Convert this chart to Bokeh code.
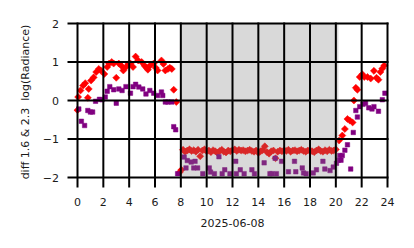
import numpy as np
from bokeh.plotting import figure
from bokeh.models import Range1d, BoxAnnotation
from bokeh.core.properties import value
from bokeh.embed import file_html
from bokeh.resources import INLINE

# ---- data (hours of day, values) ----
red_hours = [0.0, 0.05, 0.23, 0.44, 0.6, 0.8, 0.87, 1.05, 1.25, 1.45, 1.65, 1.8, 2.08, 2.3, 2.45,
             2.65, 2.8, 3.0, 3.2, 3.4, 3.55, 3.75, 3.95, 4.1, 4.3, 4.5, 4.7, 4.97, 5.2, 5.35, 5.45,
             5.6, 5.9, 6.05, 6.2, 6.5, 6.65, 6.8, 7.0, 7.15, 7.3, 7.45, 7.65, 7.92, 8.05,
             8.17, 8.33, 8.5, 8.67, 8.83, 9.0, 9.17, 9.33, 9.5, 9.67, 9.83, 10.0, 10.17, 10.33,
             10.5, 10.67, 10.83, 11.0, 11.17, 11.33, 11.5, 11.67, 11.83, 12.0, 12.17, 12.33, 12.5,
             12.67, 12.83, 13.0, 13.17, 13.33, 13.5, 13.67, 13.83, 14.0, 14.17, 14.33, 14.5, 14.67,
             14.83, 15.0, 15.17, 15.33, 15.5, 15.67, 15.83, 16.0, 16.17, 16.33, 16.5, 16.67, 16.83,
             17.0, 17.17, 17.33, 17.5, 17.67, 17.83, 18.0, 18.17, 18.33, 18.5, 18.67, 18.83, 19.0,
             19.17, 19.33, 19.5, 19.67, 19.83, 20.0,
             20.25, 20.5, 20.7, 20.9, 21.08, 21.3, 21.4, 21.55, 21.67, 21.85, 22.05, 22.2, 22.45,
             22.7, 22.95, 23.15, 23.3, 23.45, 23.6, 23.75]
red_vals = [-0.25, 0.09, 0.26, 0.39, 0.45, 0.07, 0.3, 0.52, 0.6, 0.74, 0.82, 0.78, 0.69, 0.87, 0.96,
            1.0, 0.96, 0.59, 0.96, 0.9, 0.78, 0.87, 0.95, 0.96, 0.87, 1.14, 1.04, 1.0, 0.9, 0.85, 0.8,
            0.9, 0.96, 0.85, 0.78, 1.04, 0.95, 0.78, 0.82, 0.85, 0.82, 0.28, -0.04, -1.86, -1.8,
            -1.28, -1.33, -1.30, -1.27, -1.31, -1.29, -1.33, -1.28, -1.45, -1.30, -1.27, -1.32, -1.30, -1.34,
            -1.29, -1.32, -1.36, -1.31, -1.28, -1.33, -1.35, -1.30, -1.32, -1.29, -1.27, -1.31, -1.28,
            -1.30, -1.29, -1.32, -1.30, -1.28, -1.31, -1.33, -1.30, -1.36, -1.32, -1.29, -1.19, -1.34,
            -1.38, -1.32, -1.30, -1.50, -1.33, -1.30, -1.32, -1.29, -1.31, -1.28, -1.33, -1.30, -1.29,
            -1.32, -1.30, -1.28, -1.31, -1.33, -1.30, -1.29, -1.32, -1.34, -1.30, -1.27, -1.31, -1.33,
            -1.29, -1.32, -1.28, -1.31, -1.30, -1.27,
            -1.04, -0.91, -0.74, -0.48, -0.52, -0.57, 0.0, 0.33, 0.28, 0.61, 0.68, 0.61, 0.61,
            0.57, 0.77, 0.59, 0.54, 0.74, 0.83, 0.91]

purple_hours = [0.1, 0.3, 0.55, 0.8, 1.0, 1.17, 1.4, 1.7, 1.9, 2.15, 2.3, 2.5, 2.8, 3.0, 3.2, 3.45,
                3.75, 4.1, 4.3, 4.5, 4.75, 5.05, 5.3, 5.6, 5.9, 6.2, 6.5, 6.6, 6.8, 7.0, 7.3, 7.45,
                7.6, 7.75,
                8.26, 8.4, 8.5, 8.8, 9.0, 9.1, 9.3, 9.7, 10.2, 10.3, 10.6, 10.95, 11.2, 11.4, 11.8,
                12.25, 12.3, 12.6, 12.9, 13.5, 13.7, 14.45, 14.9, 15.05, 15.3, 15.4, 15.8, 16.33,
                16.8, 16.9, 17.4, 17.5, 17.7, 18.25, 18.5, 19.0, 19.15, 19.55, 19.8, 20.05, 20.2,
                20.3, 20.4, 20.5, 20.7, 20.9, 21.15, 21.35, 21.55, 21.67, 21.85, 22.1, 22.3, 22.55,
                22.8, 22.95, 23.3, 23.6, 23.8]
purple_vals = [-0.22, -0.54, -0.65, -0.26, -0.3, -0.3, -0.02, 0.03, 0.02, 0.09, 0.24, 0.36, 0.28,
               -0.07, 0.3, 0.26, 0.36, 0.19, 0.36, 0.42, 0.35, 0.3, 0.17, 0.26, 0.19, 0.13, 0.22,
               0.13, -0.04, -0.04, -0.04, -0.68, -0.76, -1.9,
               -1.47, -1.75, -1.56, -1.6, -1.75, -1.58, -1.75, -1.9, -1.75, -1.86, -1.9, -1.46, -1.9,
               -1.8, -1.9, -1.58, -1.9, -1.8, -1.9, -1.8, -1.9, -1.62, -1.9, -1.9, -1.5, -1.9, -1.58,
               -1.85, -1.58, -1.85, -1.75, -1.88, -1.9, -1.88, -1.8, -1.58, -1.78, -1.82, -1.73,
               -1.63, -1.55, -1.43, -1.55, -1.43, -1.29, -1.15, -1.78, -0.83, -0.26, -0.43, -0.16,
               -0.1, -0.07, -0.19, -0.22, -0.16, -0.28, 0.02, 0.19]

x_ticks = [0, 2, 4, 6, 8, 10, 12, 14, 16, 18, 20, 22, 24]
x_tick_labels = ["0", "2", "4", "6", "8", "10", "12", "14", "16", "18", "20", "22", "24"]
y_ticks = [-2, -1, 0, 1, 2]
y_tick_labels = ["\u22122", "\u22121", "0", "1", "2"]
night_start, night_end = 7.97, 20.2
x_min, x_max, y_min, y_max = 0, 24, -2, 2
x_title = "2025-06-08"
y_title = "diff 1.6 & 2.3\u00a0 log(Radiance)"

# ---- layout (pixels of the 414 x 248 canvas) ----
W, H = 414, 248
F_LEFT, F_RIGHT, F_TOP, F_BOTTOM = 77, 387, 23, 177
sx = (F_RIGHT - F_LEFT) / (x_max - x_min)      # px per hour
sy = (F_BOTTOM - F_TOP) / (y_max - y_min)      # px per unit


def hx(px):
    return x_min + (px - F_LEFT) / sx


def vy(py):
    return y_max - (py - F_TOP) / sy


FONT = "DejaVu Sans"
FS = "11px"
TXT = "#1a1a1a"

p = figure(width=W, height=H, output_backend="svg", toolbar_location=None,
           x_range=Range1d(hx(0), hx(W)), y_range=Range1d(vy(H), vy(0)),
           min_border=0, min_border_left=0, min_border_right=0,
           min_border_top=0, min_border_bottom=0)
p.xaxis.visible = False
p.yaxis.visible = False
p.grid.visible = False
p.outline_line_color = None
p.background_fill_color = "white"
p.border_fill_color = "white"

# data
p.scatter(red_hours, red_vals, marker="square", angle=np.pi / 4, size=5,
          fill_color="red", line_color="red", line_width=0.5)
p.scatter(purple_hours, purple_vals, marker="square", size=4.5,
          fill_color="purple", line_color="purple", line_width=0.5)

# night shading (over the points)
p.add_layout(BoxAnnotation(left=night_start, right=night_end, bottom=y_min, top=y_max,
                           fill_color="gray", fill_alpha=0.3, line_color=None))

# grid lines with their outward ticks (drawn on top)
n_x, n_y = len(x_ticks), len(y_ticks)
vgrid = p.segment(x0=x_ticks, y0=[vy(F_BOTTOM + 9)] * n_x, x1=x_ticks, y1=[y_max] * n_x,
                  line_color="black", line_width=2, line_cap="square")
hgrid = p.segment(x0=[hx(F_LEFT - 9)] * n_y, y0=y_ticks, x1=[x_max] * n_y, y1=y_ticks,
                  line_color="black", line_width=2, line_cap="square")
vgrid.level = "overlay"
hgrid.level = "overlay"

# tick labels
p.text(x=x_ticks, y=[vy(201.5)] * n_x, text=x_tick_labels,
       text_font=value(FONT), text_font_size=FS, text_color=TXT,
       text_align="center", text_baseline="middle")
p.text(x=[hx(58.5)] * n_y, y=y_ticks, text=y_tick_labels,
       text_font=value(FONT), text_font_size=FS, text_color=TXT,
       text_align="right", text_baseline="middle")

# axis titles
p.text(x=[(x_min + x_max) / 2], y=[vy(222.5)], text=[x_title],
       text_font=value(FONT), text_font_size=FS, text_color=TXT,
       text_align="center", text_baseline="middle")
p.text(x=[hx(24.5)], y=[vy(101.5)], text=[y_title], angle=np.pi / 2,
       text_font=value(FONT), text_font_size=FS, text_color=TXT,
       text_align="center", text_baseline="middle")

open("out.html", "w").write(file_html(p, INLINE))
